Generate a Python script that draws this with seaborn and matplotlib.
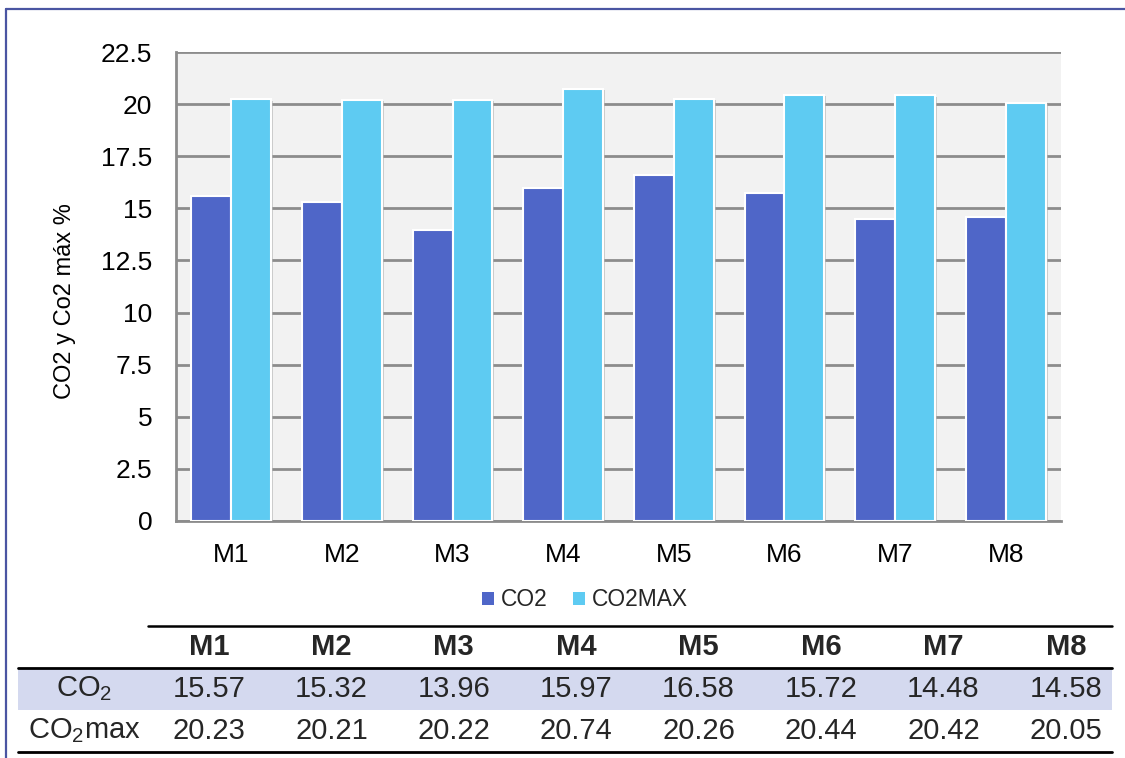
import matplotlib
matplotlib.use("Agg")
import matplotlib.pyplot as plt
import matplotlib.patheffects as pe
from matplotlib.lines import Line2D
from matplotlib.patches import Rectangle
import pandas as pd
import seaborn as sns

# Sample labels and measured values
muestras = ["M1", "M2", "M3", "M4", "M5", "M6", "M7", "M8"]
co2 = [15.57, 15.32, 13.96, 15.97, 16.58, 15.72, 14.48, 14.58]
co2max = [20.23, 20.21, 20.22, 20.74, 20.26, 20.44, 20.42, 20.05]
series = ["CO2", "CO2MAX"]
row_labels = [r"CO$_{\mathregular{2}}$", r"CO$_{\mathregular{2}}$max"]
yticks = [0, 2.5, 5, 7.5, 10, 12.5, 15, 17.5, 20, 22.5]
ylabel = "CO2 y Co2 máx %"

colors = {"CO2": "#4f66c8", "CO2MAX": "#5ecbf2"}

df = pd.DataFrame({
    "Muestra": muestras * 2,
    "Serie": [series[0]] * len(muestras) + [series[1]] * len(muestras),
    "Valor": co2 + co2max,
})

sns.set_theme(style="white")
plt.rcParams["font.family"] = ["Liberation Sans", "DejaVu Sans"]
plt.rcParams["mathtext.fontset"] = "custom"
plt.rcParams["mathtext.rm"] = "Liberation Sans"
plt.rcParams["mathtext.it"] = "Liberation Sans:italic"
plt.rcParams["mathtext.bf"] = "Liberation Sans:bold"

W, H = 1125, 758
fig = plt.figure(figsize=(W / 100, H / 100), dpi=100)


def fx(x):
    return x / W


def fy(y):
    return 1 - y / H


ax = fig.add_axes([fx(176), fy(521), fx(1061) - fx(176), fy(52) - fy(521)])
ax.set_facecolor("#f2f2f2")

sns.barplot(data=df, x="Muestra", y="Valor", hue="Serie", order=muestras,
            hue_order=series, palette=colors, width=0.72, saturation=1,
            edgecolor="white", linewidth=1.5, ax=ax, legend=False, zorder=3)

for bar in ax.patches:
    bar.set_path_effects([
        pe.SimplePatchShadow(offset=(1.5, -1), shadow_rgbFace="#b0b0b0", alpha=0.6),
        pe.Normal(),
    ])

ax.set_ylim(0, 22.5)
ax.set_yticks(yticks)
ax.set_yticklabels([f"{t:g}" for t in yticks])
ax.set_xlim(-0.5, len(muestras) - 0.5)
ax.yaxis.grid(True, color="#8c8c8c", linewidth=2, zorder=0)
ax.set_axisbelow(True)
for side in ["top", "right"]:
    ax.spines[side].set_visible(False)
for side in ["left", "bottom"]:
    ax.spines[side].set_color("#8c8c8c")
    ax.spines[side].set_linewidth(2)
ax.tick_params(axis="both", length=0, labelsize=19, colors="black")
ax.tick_params(axis="y", pad=17)
ax.tick_params(axis="x", pad=16)
ax.set_xlabel("")
ax.set_ylabel(ylabel, fontsize=17, color="black")
ax.yaxis.set_label_coords(-0.113, 0.469)

handles = [Rectangle((0, 0), 1, 1, facecolor=colors[s], edgecolor="none") for s in series]
fig.legend(handles, series, loc="center", bbox_to_anchor=(fx(585), fy(600)),
           ncol=2, frameon=False, fontsize=16.4, handlelength=0.55,
           handleheight=0.55, handletextpad=0.3, columnspacing=1.1)

# Outer frame
fig.add_artist(Line2D([fx(6), 1], [fy(9), fy(9)], color="#4a55a2", linewidth=1.6))
fig.add_artist(Line2D([fx(6), fx(6)], [fy(9), 0], color="#4a55a2", linewidth=1.6))

# Data table under the chart
fig.add_artist(Rectangle((fx(18), fy(710)), fx(1112) - fx(18), fy(668) - fy(710),
                         facecolor="#d4d9ef", edgecolor="none"))
fig.add_artist(Line2D([fx(148), fx(1112)], [fy(626), fy(626)], color="black", linewidth=1.8))
fig.add_artist(Line2D([fx(18), fx(1112)], [fy(668), fy(668)], color="black", linewidth=2))
fig.add_artist(Line2D([fx(18), fx(1112)], [fy(752), fy(752)], color="black", linewidth=2))

col_x = [209 + i * 122.4 for i in range(len(muestras))]
for cx, m in zip(col_x, muestras):
    fig.text(fx(cx), fy(647), m, ha="center", va="center", fontsize=21, fontweight="bold")
for cx, v in zip(col_x, co2):
    fig.text(fx(cx), fy(689), f"{v:.2f}", ha="center", va="center", fontsize=21)
for cx, v in zip(col_x, co2max):
    fig.text(fx(cx), fy(731), f"{v:.2f}", ha="center", va="center", fontsize=21)
fig.text(fx(84), fy(689), row_labels[0], ha="center", va="center", fontsize=21)
fig.text(fx(84), fy(731), row_labels[1], ha="center", va="center", fontsize=21)

fig.savefig("out.png", dpi=100)
